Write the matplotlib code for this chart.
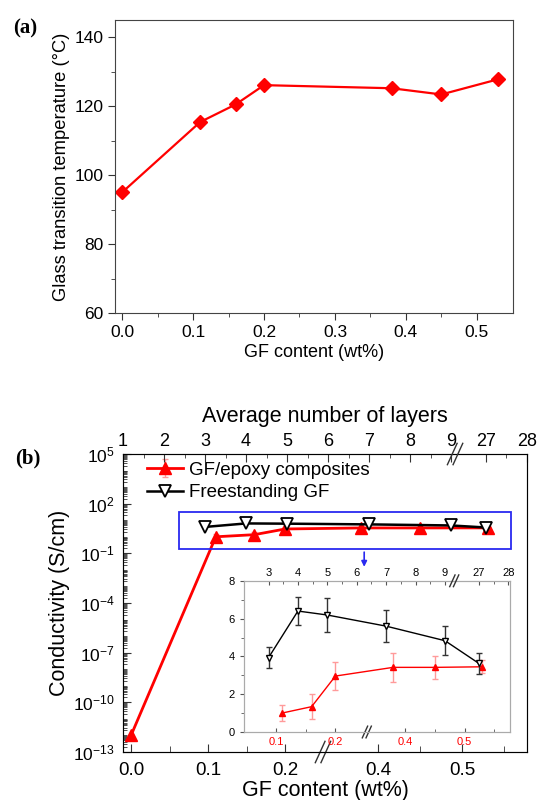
import numpy as np
import matplotlib
matplotlib.use("Agg")
import matplotlib.pyplot as plt
from matplotlib.ticker import FixedLocator, LogFormatterMathtext, NullFormatter

plt.rcParams['font.family'] = ['Liberation Sans', 'DejaVu Sans']
plt.rcParams['mathtext.default'] = 'regular'

# (a) glass transition temperature
gf_a = [0.0, 0.11, 0.16, 0.2, 0.38, 0.45, 0.53]
tg_a = [95, 115.4, 120.5, 126.1, 125.2, 123.4, 127.8]

# (b) conductivity
gf_b = [0.0, 0.11, 0.16, 0.2, 0.38, 0.45, 0.53]
cond_epoxy = [1e-12, 1.0, 1.34, 2.96, 3.42, 3.42, 3.45]
err_epoxy = [0, 0.44, 0.65, 0.74, 0.75, 0.62, 0.35]
layers = [3, 4, 5, 7, 9, 27]
cond_free = [3.93, 6.4, 6.19, 5.6, 4.83, 3.63]
err_free = [0.57, 0.73, 0.9, 0.84, 0.76, 0.55]

top_ticks = [1, 2, 3, 4, 5, 6, 7, 8, 9, 27, 28]
inset_top_ticks = [3, 4, 5, 6, 7, 8, 9, 27, 28]
bot_ticks = [0.0, 0.1, 0.2, 0.4, 0.5]
inset_bot_ticks = [0.1, 0.2, 0.4, 0.5]
decades = [1e-13, 1e-10, 1e-7, 1e-4, 1e-1, 1e2, 1e5]


def brk(lo, hi, k=1.0):
    """piecewise scale that cuts out (lo, hi)"""
    def fwd(x):
        x = np.asarray(x, float)
        return np.where(x <= lo, x, np.where(x >= hi, lo + (x - hi) * k, lo))

    def inv(t):
        t = np.asarray(t, float)
        return np.where(t <= lo, t, hi + (t - lo) / k)
    return fwd, inv


def slash(ax, xf, yf, size=0.012):
    r = ax.bbox.width / ax.bbox.height
    for dx in (-0.007, 0.007):
        ax.plot([xf + dx - size, xf + dx + size], [yf - 2.2 * size * r, yf + 2.2 * size * r],
                transform=ax.transAxes, color='#333333', lw=1, clip_on=False, zorder=10)


fig = plt.figure(figsize=(5.4, 8), dpi=100)

# ---------------- (a)
ax = fig.add_axes([0.213, 0.60875, 0.737, 0.36625])
ax.plot(gf_a, tg_a, color='red', lw=1.6, marker='D', ms=7.5)
ax.set_xlim(-0.01, 0.551)
ax.set_ylim(60, 145)
ax.set_xticks([0.0, 0.1, 0.2, 0.3, 0.4, 0.5])
ax.set_xticks(np.arange(0.05, 0.55, 0.1), minor=True)
ax.set_yticks([60, 80, 100, 120, 140])
ax.set_yticks([70, 90, 110, 130], minor=True)
ax.tick_params(which='both', direction='out', top=False, right=False, labelsize=12.5, color='#333333')
ax.tick_params(which='major', length=5)
ax.tick_params(which='minor', length=3)
for s in ax.spines.values():
    s.set_color('#444444')
ax.set_xlabel('GF content (wt%)', fontsize=13, labelpad=3)
ax.set_ylabel('Glass transition temperature (°C)', fontsize=13.2, labelpad=3)
fig.text(0.046, 0.965, '(a)', fontsize=15, fontweight='bold', family='Liberation Serif',
         ha='center', va='center')

# ---------------- (b)
ax = fig.add_axes([0.2278, 0.06, 0.7481, 0.3725])
ax.set_yscale('log')
ax.set_xscale('function', functions=brk(0.25, 0.335, 1.09))
ax.errorbar(gf_b, cond_epoxy, yerr=err_epoxy, color='red', lw=2, marker='^', ms=9,
            ecolor='#ff9a9a', elinewidth=1, capsize=2, label='GF/epoxy composites', zorder=3)
ax.set_xlim(-0.0104, 0.577)
ax.set_ylim(1e-13, 1e5)
ax.xaxis.set_major_locator(FixedLocator(bot_ticks))
ax.xaxis.set_minor_locator(FixedLocator([0.05, 0.15, 0.45, 0.55]))
ax.yaxis.set_major_locator(FixedLocator(decades))
ax.yaxis.set_major_formatter(LogFormatterMathtext())
minor = [m * 10.0 ** e for e in range(-13, 5) for m in range(1, 10)]
ax.yaxis.set_minor_locator(FixedLocator(minor))
ax.yaxis.set_minor_formatter(NullFormatter())
ax.tick_params(which='both', direction='in', top=False, right=False, color='#333333')
ax.tick_params(axis='x', which='major', length=6, labelsize=13.5, pad=7)
ax.tick_params(axis='x', which='minor', length=4)
ax.tick_params(axis='y', which='major', length=6, labelsize=12.5, pad=6)
ax.tick_params(axis='y', which='minor', length=3)
for s in ax.spines.values():
    s.set_color('#555555')
ax.set_xlabel('GF content (wt%)', fontsize=15.5, labelpad=1)
ax.set_ylabel('Conductivity (S/cm)', fontsize=15.5, labelpad=2)
slash(ax, 0.495, 0.0)

axt = ax.twiny()
axt.set_xscale('function', functions=brk(9.4, 26.55))
lf, = axt.plot(layers, cond_free, color='black', lw=1.8, marker='v', ms=9,
               mfc='white', mec='black', mew=1.3, label='Freestanding GF', zorder=4)
axt.set_xlim(1, 28)
axt.xaxis.set_major_locator(FixedLocator(top_ticks))
axt.xaxis.set_minor_locator(FixedLocator([1.5, 2.5, 3.5, 4.5, 5.5, 6.5, 7.5, 8.5, 27.5]))
axt.tick_params(which='both', direction='in', color='#333333')
axt.tick_params(which='major', length=6, labelsize=13, pad=3)
axt.tick_params(which='minor', length=3)
axt.set_xlabel('Average number of layers', fontsize=15.5, labelpad=8)
slash(axt, 0.822, 1.0)

h1, l1 = ax.get_legend_handles_labels()
ax.legend([h1[0], lf], [l1[0], 'Freestanding GF'], loc='upper left',
          bbox_to_anchor=(0.06, 0.975), frameon=False, fontsize=13.5, handlelength=1.9,
          handletextpad=0.3, labelspacing=0.3, borderaxespad=0, borderpad=0)

# blue box and arrow
ax.add_patch(plt.Rectangle((0.1376, 0.680), 0.824, 0.126, transform=ax.transAxes,
                           fill=False, ec='#2a2af0', lw=1.3, zorder=5))
ax.annotate('', xy=(0.597, 0.612), xytext=(0.597, 0.68), xycoords='axes fraction',
            arrowprops=dict(arrowstyle='-|>', color='#2a2af0', lw=1.2, mutation_scale=8))
fig.text(0.051, 0.4275, '(b)', fontsize=15, fontweight='bold', family='Liberation Serif',
         ha='center', va='center')

# ---------------- inset
ins = fig.add_axes([0.452, 0.085, 0.492, 0.189])
ins.set_xscale('function', functions=brk(0.253, 0.336))
ins.errorbar(gf_b[1:], cond_epoxy[1:], yerr=err_epoxy[1:], color='red', lw=1, marker='^', ms=5,
             ecolor='#ff9a9a', elinewidth=1, capsize=2)
ins.set_xlim(0.0465, 0.576)
ins.set_ylim(0, 8)
ins.xaxis.set_major_locator(FixedLocator(inset_bot_ticks))
ins.xaxis.set_minor_locator(FixedLocator([0.15, 0.45, 0.55]))
ins.set_yticks([0, 2, 4, 6, 8])
ins.set_yticks([1, 3, 5, 7], minor=True)
ins.tick_params(axis='y', which='both', direction='out', labelsize=8, color='#555555')
ins.tick_params(axis='x', which='both', direction='in', labelsize=8, labelcolor='red',
                color='#555555')
ins.tick_params(which='major', length=3)
ins.tick_params(which='minor', length=2)
for s in ins.spines.values():
    s.set_color('#aaaaaa')
slash(ins, 0.462, 0.0, size=0.01)

inst = ins.twiny()
inst.set_xscale('function', functions=brk(9.5, 26.35))
inst.errorbar(layers, cond_free, yerr=err_free, color='black', lw=1, marker='v', ms=5,
              mfc='white', mec='black', ecolor='#333333', elinewidth=1, capsize=2.5)
inst.set_xlim(2.17, 28.05)
inst.xaxis.set_major_locator(FixedLocator(inset_top_ticks))
inst.xaxis.set_minor_locator(FixedLocator([3.5, 4.5, 5.5, 6.5, 7.5, 8.5, 27.5]))
inst.tick_params(which='both', direction='in', labelsize=8, pad=2, color='#555555')
inst.tick_params(which='major', length=3)
inst.tick_params(which='minor', length=2)
for s in inst.spines.values():
    s.set_color('#aaaaaa')
slash(inst, 0.791, 1.0, size=0.01)

fig.savefig('out.png', dpi=100)
